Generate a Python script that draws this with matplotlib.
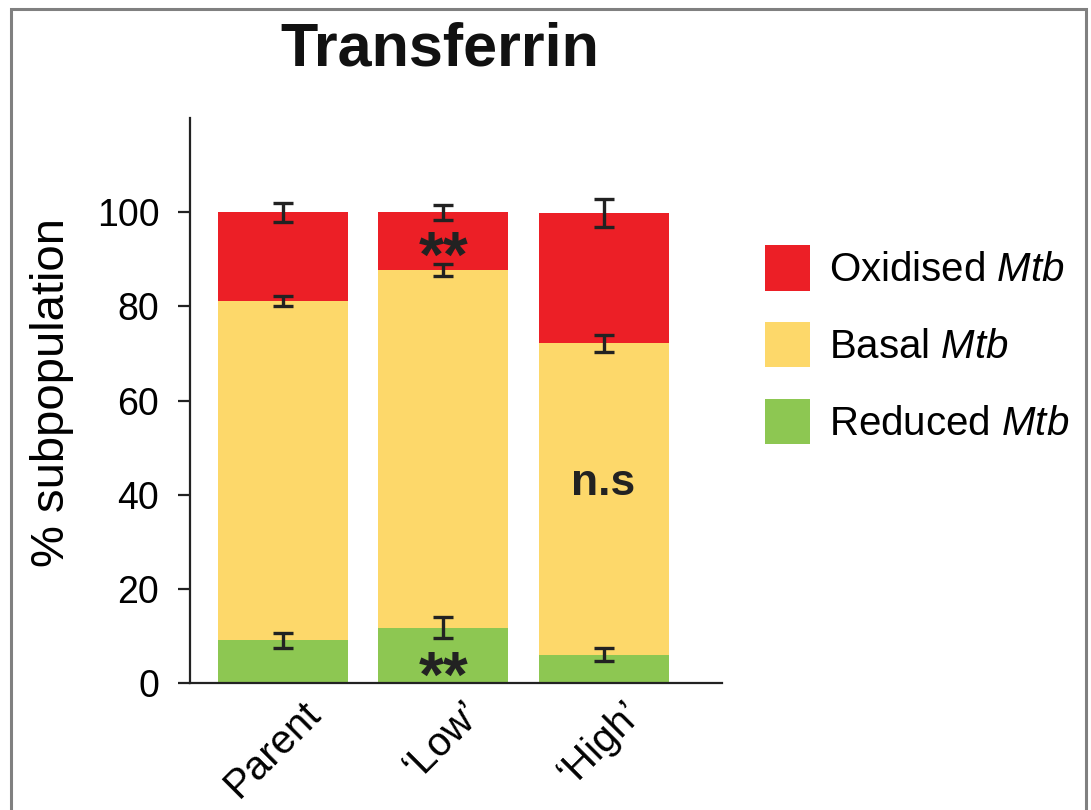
import numpy as np
import matplotlib
matplotlib.use("Agg")
import matplotlib.pyplot as plt
from matplotlib.patches import Rectangle
from matplotlib.transforms import ScaledTranslation

plt.rcParams["font.family"] = ["Liberation Sans", "DejaVu Sans"]
plt.rcParams["mathtext.fontset"] = "custom"
plt.rcParams["mathtext.rm"] = "Liberation Sans"
plt.rcParams["mathtext.it"] = "Liberation Sans:italic"

# data
groups = ["Parent", "\u2018Low\u2019", "\u2018High\u2019"]
reduced = [9.0, 11.7, 6.0]
basal = [72.2, 76.0, 66.2]
oxidised = [18.8, 12.3, 27.6]
reduced_err = [1.5, 2.2, 1.3]
basal_err = [1.0, 1.3, 1.8]
oxidised_err = [2.0, 1.6, 3.0]

c_red = "#ec1f26"
c_yel = "#fdd86a"
c_grn = "#8dc752"

fig = plt.figure(figsize=(10.91, 8.10), dpi=100)
ax = fig.add_axes([0.174, 0.157, 0.488, 0.697])

x = np.arange(len(groups))
red_bottom = np.array(reduced) + np.array(basal)

ax.bar(x, reduced, width=0.81, color=c_grn, label=r"Reduced $\mathit{Mtb}$")
ax.bar(x, basal, width=0.81, bottom=reduced, color=c_yel, label=r"Basal $\mathit{Mtb}$")
ax.bar(x, oxidised, width=0.81, bottom=red_bottom, color=c_red, label=r"Oxidised $\mathit{Mtb}$")

ekw = dict(fmt="none", ecolor="#222222", elinewidth=2.4, capsize=7, capthick=2.4)
ax.errorbar(x, reduced, yerr=reduced_err, **ekw)
ax.errorbar(x, red_bottom, yerr=basal_err, **ekw)
ax.errorbar(x, red_bottom + np.array(oxidised), yerr=oxidised_err, **ekw)

# significance marks
ax.text(1, 89.9, "**", ha="center", va="center", fontsize=46, fontweight="bold", color="#222222")
ax.text(1, 0.6, "**", ha="center", va="center", fontsize=46, fontweight="bold", color="#222222")
ax.text(2, 42.4, "n.s", ha="center", va="center", fontsize=32, fontweight="bold", color="#222222")

ax.set_xlim(-0.58, 2.74)
ax.set_ylim(0, 120)
ax.set_yticks([0, 20, 40, 60, 80, 100])
ax.set_xticks(x)
ax.set_xticklabels(groups, rotation=45, ha="right", rotation_mode="anchor", fontsize=29)
ax.tick_params(axis="y", labelsize=27, length=9, width=1.6, pad=13, color="#222222")
ax.tick_params(axis="x", length=0, pad=12)
shift = ScaledTranslation(13 / 72, 4 / 72, fig.dpi_scale_trans)
for lab in ax.get_xticklabels():
    lab.set_transform(lab.get_transform() + shift)
for s in ["top", "right"]:
    ax.spines[s].set_visible(False)
for s in ["left", "bottom"]:
    ax.spines[s].set_linewidth(1.6)
    ax.spines[s].set_color("#222222")

ax.set_ylabel("% subpopulation", fontsize=34)
ax.yaxis.set_label_coords(-0.217, 0.515)

fig.text(0.403, 0.938, "Transferrin", ha="center", va="center", fontsize=44, fontweight="bold", color="#111111")

h, l = ax.get_legend_handles_labels()
ax.legend(h[::-1], l[::-1], loc="upper left", bbox_to_anchor=(1.081, 0.775), frameon=False,
          fontsize=29, handlelength=1.12, handleheight=1.35, handletextpad=0.45,
          labelspacing=0.78, borderpad=0, borderaxespad=0)

fig.patches.append(Rectangle((0.0101, -0.02), 0.985, 1.0089, transform=fig.transFigure,
                             fill=False, edgecolor="#808080", linewidth=2.2))

fig.savefig("out.png", dpi=100)
